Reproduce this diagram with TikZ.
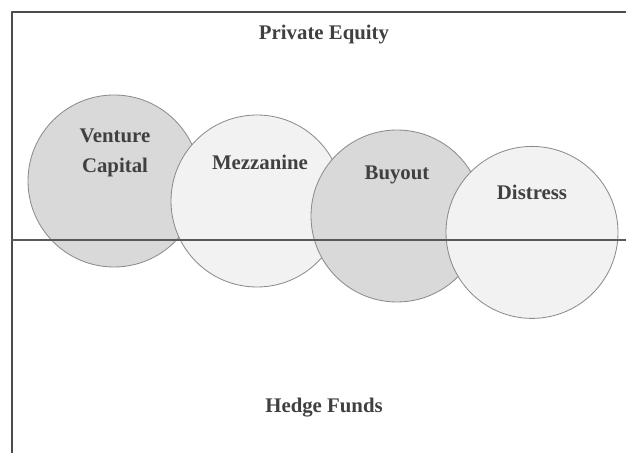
\documentclass[tikz,border=0pt]{standalone}
\usepackage{fontspec}
\setmainfont{Liberation Serif}
\begin{document}
\begin{tikzpicture}[line join=round, line cap=round,
	font=\fontsize{14.8}{21}\selectfont\bfseries,
	every node/.style={text=black!75, align=center},
	fund/.style={draw=gray!90, line width=.6pt}]
		\useasboundingbox (-.3,-5.325) rectangle (15.35,6);
		% the four strategies, left to right
		\foreach \x/\y/\c in {2.55/1.475/30, 6.125/.975/10, 9.625/.6/30, 13/.19/10}
			\draw[fund, fill=gray!\c] (\x,\y) circle (2.15);
		\draw[black!70, line width=1.3pt] (15.35,5.7)--(0,5.7)--(0,-5.325);
		\draw[black!65, line width=1.3pt] (0,0)--(15.35,0);
		\node (pe) at (7.8,5.125) {Private Equity};
		\node (hf) at (7.8,-4.2) {Hedge Funds};
		\node (vc) at (2.575,2.175) {Venture\\Capital};
		\node (mz) at (6.2,1.95) {Mezzanine};
		\node (bo) at (9.625,1.625) {Buyout};
		\node (ds) at (13,1.2) {Distress};
	\end{tikzpicture}
\end{document}
